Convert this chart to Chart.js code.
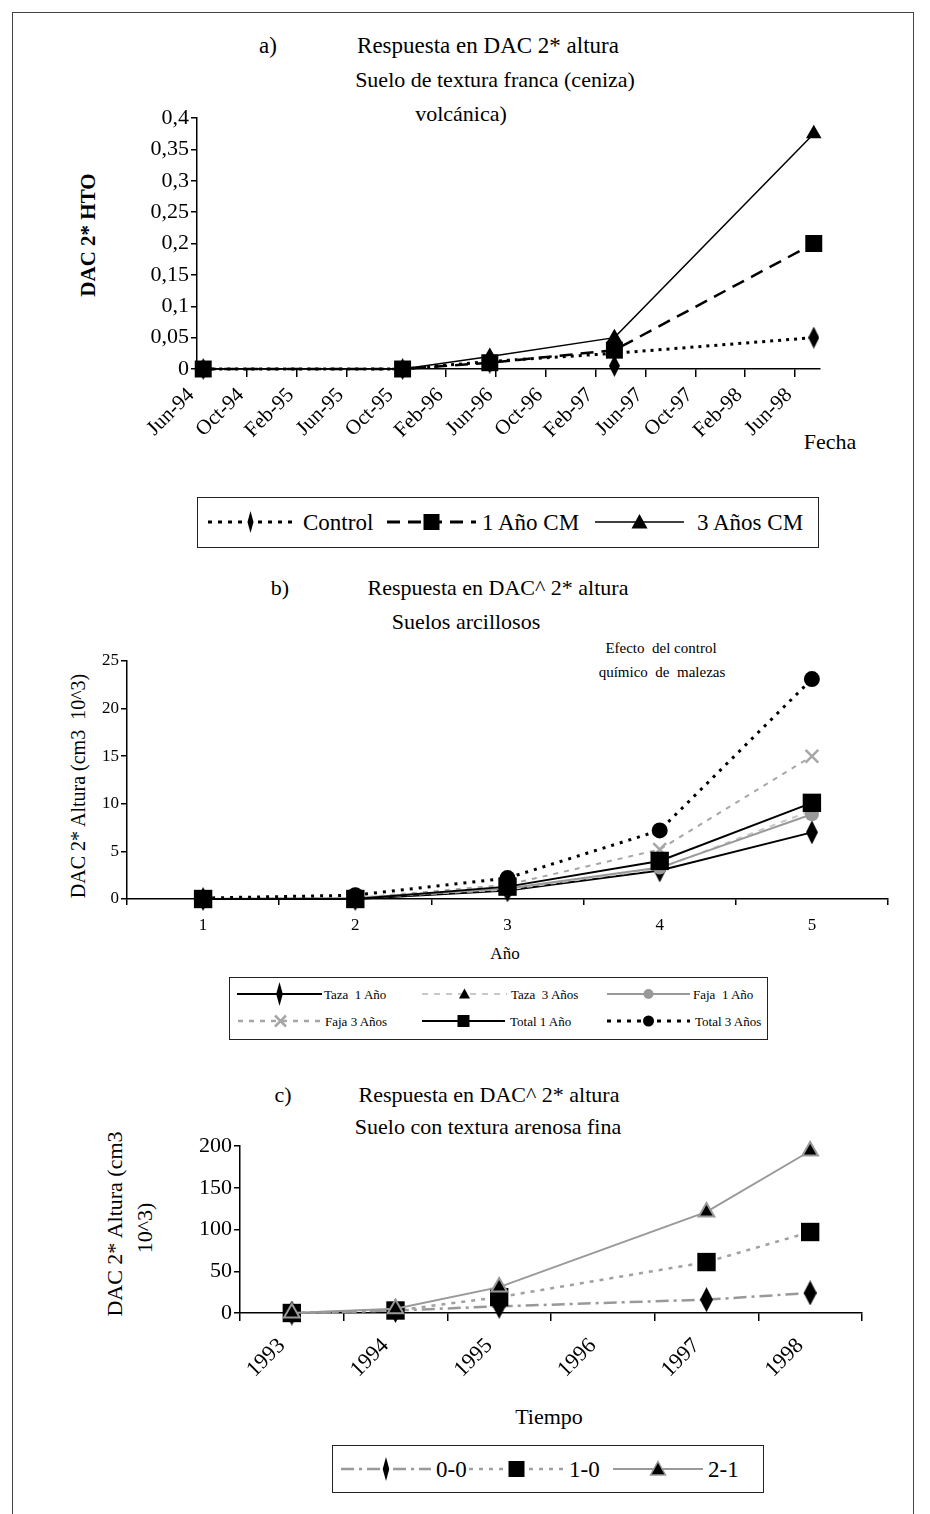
<!DOCTYPE html>
<html>
<head>
<meta charset="utf-8">
<script src="https://cdn.jsdelivr.net/npm/chart.js@4.4.1/dist/chart.umd.min.js"></script>
<style>
  body { margin: 0; background: #fff; }
  #page { position: relative; width: 930px; height: 1514px; overflow: hidden; font-family: "Liberation Serif", "Times New Roman", serif; color: #000; }
  #frame { position: absolute; left: 12px; top: 12px; width: 900px; height: 1540px; border: 1.5px solid #444; border-bottom: none; }
  canvas { position: absolute; left: 0; }
  .t { position: absolute; white-space: pre; transform: translate(-50%, -50%); line-height: 1; }
  .rot { transform: translate(-50%, -50%) rotate(-90deg); }
  .legend { position: absolute; border: 1.5px solid #222; background: #fff; }
  .legend svg { position: absolute; overflow: visible; }
</style>
</head>
<body>
<div id="page">
  <div id="frame"></div>

  <!-- a) -->
  <div class="t" style="left:268px;top:45px;font-size:23px">a)</div>
  <div class="t" style="left:488px;top:45px;font-size:23px">Respuesta en DAC 2* altura</div>
  <div class="t" style="left:495px;top:80px;font-size:22px">Suelo de textura franca (ceniza)</div>
  <div class="t" style="left:461px;top:114px;font-size:22px">volcánica)</div>
  <div class="t rot" style="left:88px;top:235px;font-size:21px;font-weight:bold">DAC 2* HTO</div>
  <div class="t" style="left:830px;top:442px;font-size:22px">Fecha</div>
  <canvas id="chartA" width="930" height="480" style="top:0"></canvas>
  <div class="legend" id="legA" style="left:197px;top:497px;width:620px;height:49px"></div>

  <!-- b) -->
  <div class="t" style="left:280px;top:588px;font-size:22px">b)</div>
  <div class="t" style="left:498px;top:588px;font-size:22px">Respuesta en DAC^ 2* altura</div>
  <div class="t" style="left:466px;top:622px;font-size:22px">Suelos arcillosos</div>
  <div class="t" style="left:661px;top:648px;font-size:15px">Efecto  del control</div>
  <div class="t" style="left:662px;top:672px;font-size:15px">químico  de  malezas</div>
  <div class="t rot" style="left:78px;top:786px;font-size:20px">DAC 2* Altura (cm3  10^3)</div>
  <div class="t" style="left:505px;top:953px;font-size:17px">Año</div>
  <canvas id="chartB" width="930" height="400" style="top:560px"></canvas>
  <div class="legend" id="legB" style="left:229px;top:977px;width:537px;height:61px"></div>

  <!-- c) -->
  <div class="t" style="left:283px;top:1095px;font-size:22px">c)</div>
  <div class="t" style="left:489px;top:1095px;font-size:22px">Respuesta en DAC^ 2* altura</div>
  <div class="t" style="left:488px;top:1127px;font-size:22px">Suelo con textura arenosa fina</div>
  <div class="t rot" style="left:115px;top:1224px;font-size:22px">DAC 2* Altura (cm3</div>
  <div class="t rot" style="left:145px;top:1228px;font-size:22px">10^3)</div>
  <div class="t" style="left:549px;top:1417px;font-size:22px">Tiempo</div>
  <canvas id="chartC" width="930" height="360" style="top:1080px"></canvas>
  <div class="legend" id="legC" style="left:332px;top:1445px;width:430px;height:46px"></div>
</div>

<script>
// ---- a) Suelo de textura franca ----
const etiquetasA = ['Jun-94', 'Oct-94', 'Feb-95', 'Jun-95', 'Oct-95', 'Feb-96', 'Jun-96',
                    'Oct-96', 'Feb-97', 'Jun-97', 'Oct-97', 'Feb-98', 'Jun-98'];
const fechasA = ['Jun-94', 'Oct-95', 'May-96', 'Mar-97', 'Jul-98'];
const controlA = [0, 0, 0.01, 0.005, 0.05];
const controlLineaA = [0, 0, 0.012, 0.025, 0.05];
const unAnoA = [0, 0, 0.01, 0.03, 0.2];
const tresAnosA = [0, 0, 0.02, 0.05, 0.375];

// ---- b) Suelos arcillosos ----
const anosB = ['1', '2', '3', '4', '5'];
const taza1B = [0, 0, 0.9, 3.0, 7.0];
const taza3B = [0, 0.1, 1.0, 3.2, 9.3];
const faja1B = [0, 0.1, 1.1, 3.3, 8.9];
const faja3B = [0, 0.1, 1.5, 5.2, 15.0];
const total1B = [0, 0, 1.3, 4.0, 10.1];
const total3B = [0.1, 0.4, 2.2, 7.2, 23.1];

// ---- c) Suelo arenoso fino ----
const tiempoC = ['1993', '1994', '1995', '1996', '1997', '1998'];
const s00C = [0, 3, 8, null, 16, 24];
const s10C = [0, 3, 19, null, 61, 97];
const s21C = [0, 5, 31, null, 121, 194];

const FONT = '"Liberation Serif", "Times New Roman", serif';
const MESES = ['Jan', 'Feb', 'Mar', 'Apr', 'May', 'Jun', 'Jul', 'Aug', 'Sep', 'Oct', 'Nov', 'Dec'];

// months since Jun-94, placed in the middle of the month
function mes(f) {
  const [m, y] = f.split('-');
  return (parseInt(y) - 94) * 12 + MESES.indexOf(m) - 5 + 0.5;
}

// tall narrow diamond used as marker
function diamante(w, h, color) {
  const c = document.createElement('canvas');
  c.width = w; c.height = h;
  const g = c.getContext('2d');
  g.fillStyle = color;
  g.beginPath();
  g.moveTo(w / 2, 0); g.lineTo(w, h / 2); g.lineTo(w / 2, h); g.lineTo(0, h / 2);
  g.closePath(); g.fill();
  return c;
}

function coma(v) {
  return String(Math.round(v * 100) / 100).replace('.', ',');
}

function ejeY(min, max, step, size, fmt, width) {
  return {
    min, max,
    ticks: { stepSize: step, color: '#000', font: { family: FONT, size }, padding: 2, callback: fmt },
    grid: { display: true, drawOnChartArea: false, drawTicks: true, tickLength: 6, color: '#000', lineWidth: 1.5 },
    border: { color: '#000', width: 1.5 },
    afterFit: s => { s.width = width; }
  };
}

function opciones(scales, pad) {
  return {
    responsive: false,
    animation: false,
    layout: { padding: pad },
    plugins: { legend: { display: false }, tooltip: { enabled: false } },
    elements: { line: { tension: 0 } },
    scales
  };
}

// ---------- chart a ----------
const xy = arr => fechasA.map((f, i) => ({ x: mes(f), y: arr[i] }));
new Chart(document.getElementById('chartA'), {
  type: 'line',
  data: {
    datasets: [
      { data: xy(controlLineaA), borderColor: '#000', borderWidth: 3, borderDash: [3, 5], pointRadius: 0, clip: false, order: 4 },
      { data: xy(controlA), showLine: false, pointStyle: diamante(11, 22, '#000'), clip: false, order: 3 },
      { data: xy(unAnoA), borderColor: '#000', borderWidth: 2.5, borderDash: [13, 8], clip: false,
        pointStyle: 'rect', pointRadius: 12, backgroundColor: '#000', pointBorderWidth: 0, order: 2 },
      { data: xy(tresAnosA), borderColor: '#000', borderWidth: 1.5, clip: false,
        pointStyle: 'triangle', pointRadius: 9, backgroundColor: '#000', pointBorderWidth: 0, order: 1 }
    ]
  },
  options: opciones({
    x: {
      type: 'linear', min: 0, max: 50,
      ticks: {
        stepSize: 4, includeBounds: false, autoSkip: false, minRotation: 45, maxRotation: 45,
        color: '#000', font: { family: FONT, size: 21 }, padding: 6, labelOffset: -6,
        callback: v => etiquetasA[v / 4]
      },
      grid: { display: true, drawOnChartArea: false, drawTicks: true, tickLength: 8, color: '#000', lineWidth: 1.5 },
      border: { color: '#000', width: 1.5 },
      afterFit: s => { s.height = 480 - 369; }
    },
    y: ejeY(0, 0.4, 0.05, 22, coma, 197)
  }, { left: 0, right: 110, top: 118, bottom: 0 })
});

// ---------- chart b ----------
const puntoB = (extra) => Object.assign({ tension: 0, borderWidth: 2, pointBorderWidth: 0, clip: false }, extra);
new Chart(document.getElementById('chartB'), {
  type: 'line',
  data: {
    labels: anosB,
    datasets: [
      puntoB({ data: taza1B, borderColor: '#000', pointStyle: diamante(12, 24, '#000'), order: 6 }),
      puntoB({ data: taza3B, borderColor: '#c8c8c8', borderDash: [6, 6], pointStyle: 'triangle', pointRadius: 6, backgroundColor: '#000', order: 5 }),
      puntoB({ data: faja1B, borderColor: '#999', pointStyle: 'circle', pointRadius: 7, backgroundColor: '#999', order: 4 }),
      puntoB({ data: faja3B, borderColor: '#a6a6a6', borderDash: [5, 6], pointStyle: 'crossRot', pointRadius: 9, pointBorderWidth: 2.5, pointBorderColor: '#a6a6a6', order: 3 }),
      puntoB({ data: total1B, borderColor: '#000', pointStyle: 'rect', pointRadius: 13, backgroundColor: '#000', order: 2 }),
      puntoB({ data: total3B, borderColor: '#000', borderWidth: 3, borderDash: [3, 6], pointStyle: 'circle', pointRadius: 8, backgroundColor: '#000', order: 1 })
    ]
  },
  options: opciones({
    x: {
      offset: true,
      ticks: { color: '#000', font: { family: FONT, size: 17 }, padding: 10, maxRotation: 0 },
      grid: { display: true, offset: true, drawOnChartArea: false, drawTicks: true, tickLength: 6, color: '#000', lineWidth: 1.5 },
      border: { color: '#000', width: 1.5 },
      afterFit: s => { s.height = 400 - 339; }
    },
    y: ejeY(0, 25, 5, 17, v => v, 127)
  }, { left: 0, right: 42, top: 101, bottom: 0 })
});

// ---------- chart c ----------
new Chart(document.getElementById('chartC'), {
  type: 'line',
  data: {
    labels: tiempoC,
    datasets: [
      { data: s00C, spanGaps: true, borderColor: '#999', borderWidth: 2.5, borderDash: [13, 5, 3, 5], clip: false,
        pointStyle: diamante(13, 25, '#000'), order: 3 },
      { data: s10C, spanGaps: true, borderColor: '#a0a0a0', borderWidth: 2.5, borderDash: [4, 6], clip: false,
        pointStyle: 'rect', pointRadius: 13, backgroundColor: '#000', pointBorderWidth: 0, order: 2 },
      { data: s21C, spanGaps: true, borderColor: '#999', borderWidth: 2, clip: false,
        pointStyle: 'triangle', pointRadius: 9, backgroundColor: '#000', pointBorderColor: '#999', pointBorderWidth: 2, order: 1 }
    ]
  },
  options: opciones({
    x: {
      offset: true,
      ticks: { color: '#000', font: { family: FONT, size: 22 }, padding: 12, minRotation: 45, maxRotation: 45, labelOffset: -10 },
      grid: { display: true, offset: true, drawOnChartArea: false, drawTicks: true, tickLength: 8, color: '#000', lineWidth: 1.5 },
      border: { color: '#000', width: 1.5 },
      afterFit: s => { s.height = 360 - 233; }
    },
    y: ejeY(0, 200, 50, 22, v => v, 240)
  }, { left: 0, right: 68, top: 66, bottom: 0 })
});

// ---------- legends (Excel style: line with marker in the middle) ----------
function marca(tipo, cx, cy, s, fill, stroke) {
  const h = s / 2;
  if (tipo === 'diamond') return `<polygon points="${cx},${cy - s} ${cx + h * 0.55},${cy} ${cx},${cy + s} ${cx - h * 0.55},${cy}" fill="${fill}"/>`;
  if (tipo === 'square') return `<rect x="${cx - h}" y="${cy - h}" width="${s}" height="${s}" fill="${fill}"/>`;
  if (tipo === 'triangle') return `<polygon points="${cx},${cy - h} ${cx + h},${cy + h * 0.8} ${cx - h},${cy + h * 0.8}" fill="${fill}" stroke="${stroke || 'none'}" stroke-width="1.5"/>`;
  if (tipo === 'circle') return `<circle cx="${cx}" cy="${cy}" r="${h}" fill="${fill}"/>`;
  if (tipo === 'x') return `<path d="M${cx - h} ${cy - h}L${cx + h} ${cy + h}M${cx + h} ${cy - h}L${cx - h} ${cy + h}" stroke="${fill}" stroke-width="2.5"/>`;
  return '';
}

function leyenda(id, items, size) {
  const box = document.getElementById(id);
  let html = '';
  items.forEach(it => {
    const w = it.x1 - it.x0;
    html += `<svg style="left:${it.x0}px;top:${it.y - 15}px" width="${w}" height="30">` +
      `<line x1="0" y1="15" x2="${w}" y2="15" stroke="${it.color}" stroke-width="${it.lw}" stroke-dasharray="${it.dash || ''}"/>` +
      marca(it.mark, w / 2, 15, it.ms, it.fill, it.stroke) + '</svg>';
    html += `<div style="position:absolute;left:${it.tx}px;top:${it.y}px;transform:translateY(-50%);font-size:${size}px;line-height:1;white-space:pre">${it.text}</div>`;
  });
  box.innerHTML = html;
}

leyenda('legA', [
  { x0: 10, x1: 95, y: 24, color: '#000', lw: 3, dash: '4 6', mark: 'diamond', ms: 11, fill: '#000', tx: 105, text: 'Control' },
  { x0: 189, x1: 278, y: 24, color: '#000', lw: 3, dash: '13 8', mark: 'square', ms: 16, fill: '#000', tx: 284, text: '1 Año CM' },
  { x0: 397, x1: 486, y: 24, color: '#000', lw: 1.5, mark: 'triangle', ms: 16, fill: '#000', tx: 499, text: '3 Años CM' }
], 23);

leyenda('legB', [
  { x0: 7, x1: 92, y: 16, color: '#000', lw: 2, mark: 'diamond', ms: 12, fill: '#000', tx: 94, text: 'Taza  1 Año' },
  { x0: 192, x1: 277, y: 16, color: '#c8c8c8', lw: 2, dash: '6 6', mark: 'triangle', ms: 11, fill: '#000', tx: 281, text: 'Taza  3 Años' },
  { x0: 377, x1: 460, y: 16, color: '#999', lw: 2, mark: 'circle', ms: 10, fill: '#999', tx: 463, text: 'Faja  1 Año' },
  { x0: 8, x1: 93, y: 43, color: '#a6a6a6', lw: 2.5, dash: '5 6', mark: 'x', ms: 11, fill: '#a6a6a6', tx: 95, text: 'Faja 3 Años' },
  { x0: 192, x1: 275, y: 43, color: '#000', lw: 2, mark: 'square', ms: 12, fill: '#000', tx: 280, text: 'Total 1 Año' },
  { x0: 377, x1: 460, y: 43, color: '#000', lw: 3, dash: '4 6', mark: 'circle', ms: 11, fill: '#000', tx: 465, text: 'Total 3 Años' }
], 13);

leyenda('legC', [
  { x0: 8, x1: 98, y: 23, color: '#999', lw: 2.5, dash: '13 5 3 5', mark: 'diamond', ms: 12, fill: '#000', tx: 103, text: '0-0' },
  { x0: 136, x1: 231, y: 23, color: '#a0a0a0', lw: 2.5, dash: '4 6', mark: 'square', ms: 16, fill: '#000', tx: 236, text: '1-0' },
  { x0: 280, x1: 370, y: 23, color: '#999', lw: 2, mark: 'triangle', ms: 15, fill: '#000', stroke: '#999', tx: 375, text: '2-1' }
], 23);
</script>
</body>
</html>
